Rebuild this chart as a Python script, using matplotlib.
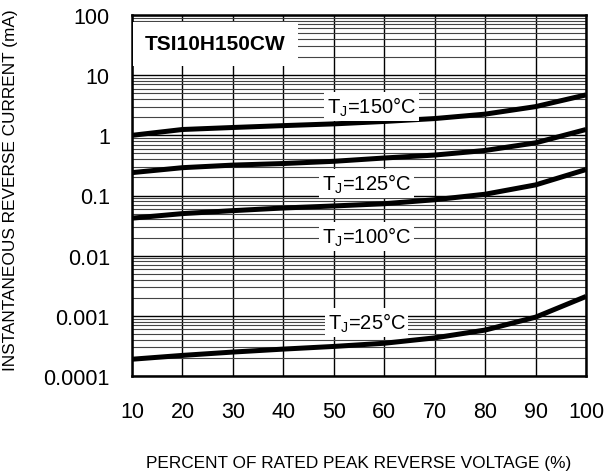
import matplotlib.pyplot as plt
import numpy as np

plt.rcParams['font.family'] = ['Liberation Sans', 'DejaVu Sans']

pct = [10, 20, 30, 40, 50, 60, 70, 80, 90, 100]
i_150 = [1.0, 1.25, 1.35, 1.45, 1.55, 1.7, 1.9, 2.25, 3.0, 4.7]
i_125 = [0.24, 0.29, 0.32, 0.34, 0.37, 0.42, 0.47, 0.56, 0.75, 1.25]
i_100 = [0.042, 0.05, 0.056, 0.062, 0.067, 0.073, 0.085, 0.105, 0.15, 0.27]
i_25 = [0.00019, 0.00022, 0.00025, 0.00028, 0.00031, 0.00035, 0.00043, 0.00058, 0.00095, 0.0021]

yticks = [0.0001, 0.001, 0.01, 0.1, 1, 10, 100]
ytick_labels = ["0.0001", "0.001", "0.01", "0.1", "1", "10", "100"]

fig = plt.figure(figsize=(6.05, 4.77), dpi=100)
ax = fig.add_axes([132 / 605, 100 / 477, 454 / 605, 361 / 477])

ax.set_yscale('log')
ax.set_xlim(10, 100)
ax.set_ylim(0.0001, 100)
ax.set_xticks(pct)
ax.set_yticks(yticks)
ax.set_yticklabels(ytick_labels)
ax.tick_params(which='both', length=0, labelsize=15.5)
ax.tick_params(axis='y', pad=16)
ax.tick_params(axis='x', pad=18)

ax.grid(True, which='major', axis='both', color='black', linewidth=1.0)
ax.grid(True, which='minor', axis='y', color='#444444', linewidth=0.8)
ax.set_axisbelow(True)
for s in ax.spines.values():
    s.set_linewidth(1.8)

for ys in (i_150, i_125, i_100, i_25):
    ax.plot(pct, ys, color='black', linewidth=3.6, solid_capstyle='butt', zorder=3)

box = dict(facecolor='white', edgecolor='none', pad=2)
ax.text(12.6, 33, "TSI10H150CW", fontsize=15, fontweight='bold', va='center', ha='left',
        bbox=dict(facecolor='white', edgecolor='none', pad=9), zorder=4)
ax.text(57.5, 3.0, "T$_\\mathregular{J}$=150°C", fontsize=14.5, ha='center', va='center', bbox=box, zorder=4)
ax.text(56.5, 0.16, "T$_\\mathregular{J}$=125°C", fontsize=14.5, ha='center', va='center', bbox=box, zorder=4)
ax.text(56.5, 0.021, "T$_\\mathregular{J}$=100°C", fontsize=14.5, ha='center', va='center', bbox=box, zorder=4)
ax.text(56.5, 0.00078, "T$_\\mathregular{J}$=25°C", fontsize=14.5, ha='center', va='center', bbox=box, zorder=4)

ax.set_xlabel("PERCENT OF RATED PEAK REVERSE VOLTAGE (%)", fontsize=12.4, labelpad=24)
fig.text(11 / 605, (477 - 190) / 477, "INSTANTANEOUS REVERSE CURRENT (mA)", fontsize=12.4,
         rotation=90, ha='center', va='center')

fig.savefig("out.png", dpi=100)
